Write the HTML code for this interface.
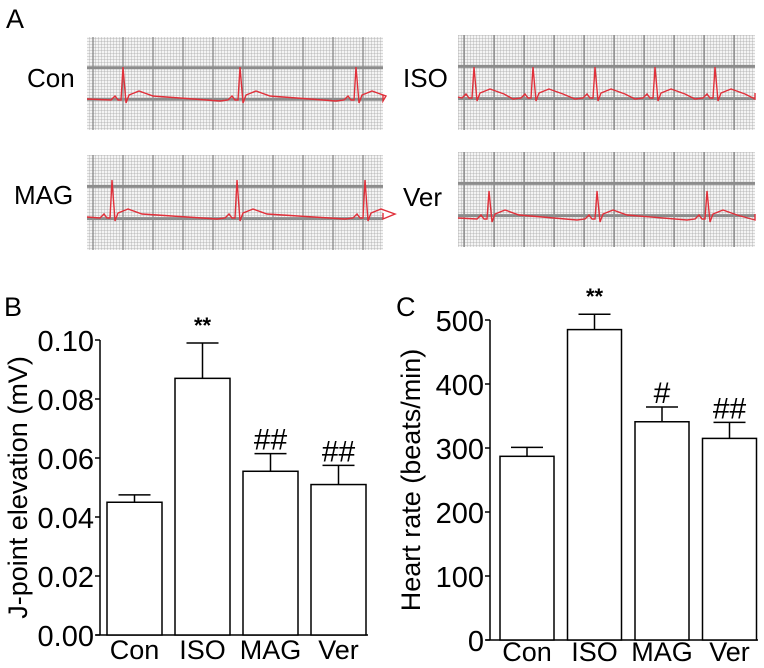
<!DOCTYPE html>
<html><head><meta charset="utf-8"><style>
body{margin:0;background:#fff;}
svg{display:block;font-family:"Liberation Sans",Arial,sans-serif;}
</style></head><body>
<svg id="fig" width="764" height="668" viewBox="0 0 764 668">
<defs>
<pattern id="fine" width="3" height="3" patternUnits="userSpaceOnUse"><path d="M3 0V3M0 3H3" stroke="#a8a8a8" stroke-width="0.8" fill="none"/></pattern>
</defs>
<text x="6" y="28" font-size="27">A</text>
<text x="4" y="316" font-size="27">B</text>
<text x="396" y="316" font-size="27">C</text>
<g id="ecg"></g>
<g id="chartB"></g>
<g id="chartC"></g>
</svg>
<script>
const NS="http://www.w3.org/2000/svg";
function mk(tag,attrs,parent){const e=document.createElementNS(NS,tag);for(const k in attrs)e.setAttribute(k,attrs[k]);parent.appendChild(e);return e;}

// ECG panels
const ecgNames=["Con","ISO","MAG","Ver"];
const ecgLabelPos=[[27,87],[403,87],[14,204],[403,206]];
const ecgBoxes=[[87,37,296,93],[458,35,297,95],[87,155,296,95],[458,152,297,95]];
const ecgBeats=[[123,240,356],[474,533,595,655,715],[112,237,365],[489,597,707]];
const ecgBase=[99,97,217,218];
const ecgAmp=[32,30,37,27];
const eg=document.getElementById('ecg');
ecgNames.forEach((nm,i)=>{
  const [x,y,w,h]=ecgBoxes[i];
  const g=mk('g',{},eg);
  
  
  mk('rect',{x:x,y:y,width:w,height:h,fill:'#f4f4f4'},g);
  mk('rect',{x:x,y:y,width:w,height:h,fill:'url(#fine)'},g);
  for(let gx=x+6;gx<x+w;gx+=30)mk('line',{x1:gx,y1:y,x2:gx,y2:y+h,stroke:'#808080','stroke-width':1.2},g);
  mk('line',{x1:x,y1:y+h*0.33,x2:x+w,y2:y+h*0.33,stroke:'#8c8c8c','stroke-width':3},g);
  mk('line',{x1:x,y1:y+h*0.67,x2:x+w,y2:y+h*0.67,stroke:'#8c8c8c','stroke-width':3},g);
  const b=ecgBase[i],a=ecgAmp[i];
  let d='M'+x+' '+b;
  const beats=ecgBeats[i];
  beats.forEach((bx,j)=>{
    d+=` L${bx-12} ${b+1} L${bx-8} ${b-3} L${bx-5} ${b+1} L${bx-2} ${b+1} L${bx} ${b-a} L${bx+3} ${b+4} L${bx+6} ${b-4} L${bx+16} ${b-8} L${bx+30} ${b-3}`;
    const nx=j+1<beats.length?beats[j+1]:x+w+20;
    d+=` L${Math.min(nx-20,x+w)} ${b+2}`;
  });
  d+=` L${x+w} ${b-4}`;
  mk('path',{d:d,fill:'none',stroke:'#e0303a','stroke-width':1.4},g);
  const t=mk('text',{x:ecgLabelPos[i][0],y:ecgLabelPos[i][1],'font-size':26},eg);
  t.textContent=nm;
  
  
});

// Chart data
const categories=["Con","ISO","MAG","Ver"];
const jpointValues=[0.045,0.087,0.0555,0.051];
const jpointErrors=[0.0025,0.012,0.006,0.0065];
const jpointMarks=["","**","##","##"];
const jpointTicks=["0.00","0.02","0.04","0.06","0.08","0.10"];
const hrValues=[287,485,341,315];
const hrErrors=[14,24,23,25];
const hrMarks=["","**","#","##"];
const hrTicks=["0","100","200","300","400","500"];

function drawChart(gid,cfg){
  const g=document.getElementById(gid);
  const y=v=>cfg.y0-(v/cfg.max)*(cfg.y0-cfg.yTop);
  mk('line',{x1:cfg.ax,y1:cfg.yTop,x2:cfg.ax,y2:cfg.y0,stroke:'#000','stroke-width':1.5},g);
  mk('line',{x1:cfg.ax-4,y1:cfg.y0,x2:cfg.xEnd,y2:cfg.y0,stroke:'#000','stroke-width':1.5},g);
  cfg.ticks.forEach((tl,i)=>{
    const v=cfg.max*i/(cfg.ticks.length-1);
    const ty=y(v);
    const tk=mk('line',{x1:cfg.ax-5,y1:ty,x2:cfg.ax,y2:ty,stroke:'#000','stroke-width':1.5},g);
    
    
    const t=mk('text',{x:cfg.ax-6,y:ty+11,'font-size':29,'text-anchor':'end'},g);
    t.textContent=tl;
    
    
  });
  categories.forEach((c,i)=>{
    const x0=cfg.bx0+i*cfg.step, bw=cfg.bw, cx=x0+bw/2;
    const top=y(cfg.vals[i]), et=y(cfg.vals[i]+cfg.errs[i]);
    const r=mk('rect',{x:x0,y:top,width:bw,height:cfg.y0-top,fill:'#fff',stroke:'#000','stroke-width':1.5},g);
    
    
    const e=mk('path',{d:`M${cx} ${top}V${et}M${cx-16} ${et}H${cx+16}`,stroke:'#000','stroke-width':1.5,fill:'none'},g);
    
    
    if(cfg.marks[i]){
      const star=cfg.marks[i].includes('*');
      const m=mk('text',{x:cx,y:star?et-10:et-4,'font-size':star?22:30,'text-anchor':'middle','font-weight':star?'bold':'normal'},g);
      m.textContent=cfg.marks[i];
      
      
    }
    const l=mk('text',{x:cx,y:cfg.lblY,'font-size':27,'text-anchor':'middle'},g);
    l.textContent=c;
    
    
  });
  const yt=mk('text',{x:0,y:0,'font-size':27,'text-anchor':'middle',transform:`translate(${cfg.titleX},${(cfg.yTop+cfg.y0)/2}) rotate(-90)`},g);
  yt.textContent=cfg.title;
  
  
}
drawChart('chartB',{ax:100,yTop:340,y0:635,xEnd:368,max:0.10,ticks:jpointTicks,bx0:107,step:68,bw:55,vals:jpointValues,errs:jpointErrors,marks:jpointMarks,title:"J-point elevation (mV)",titleX:27,lblY:659});
drawChart('chartC',{ax:490,yTop:320,y0:640,xEnd:758,max:500,ticks:hrTicks,bx0:500,step:67.5,bw:54,vals:hrValues,errs:hrErrors,marks:hrMarks,title:"Heart rate (beats/min)",titleX:420,lblY:661});
</script>
</body></html>
